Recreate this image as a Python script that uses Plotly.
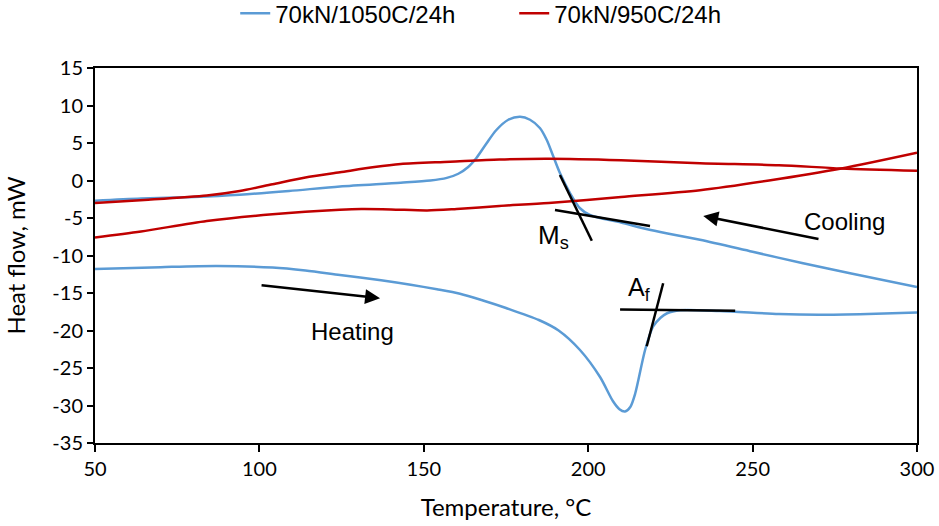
import plotly.graph_objects as go

# Blue sample 70kN/1050C/24h - cooling branch (upper)
blue_cool_T = [50, 64, 80, 94, 109, 124.5, 143, 152, 157, 160.5, 163.5, 166, 169, 172, 175.7, 179.3, 182.3, 185.3, 187.4, 189.4, 191.4, 194.5, 197.5, 200.5, 210, 219, 234, 250, 265, 280, 300]
blue_cool_v = [-2.7, -2.4, -2.2, -1.9, -1.4, -0.8, -0.3, 0.0, 0.35, 0.9, 1.8, 3.0, 4.9, 6.7, 8.1, 8.5, 8.1, 7.0, 5.4, 3.2, 1.0, -1.7, -3.7, -4.6, -5.6, -6.6, -7.9, -9.5, -11.0, -12.4, -14.2]

# Blue sample - heating branch (lower)
blue_heat_T = [50, 70, 87, 104, 114, 124.5, 137, 146, 154, 161, 168, 175, 185, 191, 197.5, 203.6, 207.5, 209.5, 211.2, 212.8, 214.3, 217.3, 219.7, 222, 224, 228, 240, 258, 270, 285, 300]
blue_heat_v = [-11.8, -11.55, -11.4, -11.6, -12.0, -12.6, -13.3, -13.9, -14.5, -15.1, -16.0, -17.0, -18.6, -20.0, -22.6, -26.2, -29.4, -30.5, -30.8, -30.2, -28.4, -22.6, -19.5, -18.3, -17.7, -17.3, -17.4, -17.8, -17.9, -17.8, -17.6]

# Red sample 70kN/950C/24h - cooling branch (upper)
red_cool_T = [50, 65, 84, 94, 104, 114, 124.5, 135, 143, 158, 173, 188, 210, 234, 258, 277, 300]
red_cool_v = [-3.0, -2.6, -2.0, -1.4, -0.5, 0.4, 1.1, 1.8, 2.2, 2.5, 2.8, 2.9, 2.7, 2.3, 2.05, 1.6, 1.3]

# Red sample - heating branch (lower)
red_heat_T = [50, 64, 84, 104, 124.5, 131, 140, 151, 160, 173, 188, 210, 234, 255, 277, 300]
red_heat_v = [-7.6, -6.8, -5.4, -4.5, -3.9, -3.8, -3.85, -4.0, -3.8, -3.4, -3.0, -2.2, -1.3, 0.0, 1.6, 3.7]

# Tangent construction lines (Ms, Af)
ms_tan1_T = [191.4, 201.1]
ms_tan1_v = [0.73, -8.03]
ms_tan2_T = [189.9, 218.8]
ms_tan2_v = [-3.93, -6.07]
af_tan1_T = [222.8, 217.8]
af_tan1_v = [-13.7, -22.1]
af_tan2_T = [209.7, 244.7]
af_tan2_v = [-17.2, -17.35]

x_ticks = [50, 100, 150, 200, 250, 300]
y_ticks = [-35, -30, -25, -20, -15, -10, -5, 0, 5, 10, 15]

BLUE = "#5B9BD5"
RED = "#C00000"
TICKFONT = dict(family="Lato", size=20, color="#000000")
TITLEFONT = dict(family="Lato", size=24, color="#000000")
TEXTFONT = dict(family="Liberation Sans, Arial", size=24, color="#000000")
LINE_STYLE = dict(width=2.5, shape="spline", smoothing=0.8)

fig = go.Figure()
fig.add_trace(go.Scatter(x=blue_cool_T, y=blue_cool_v, mode="lines", name="70kN/1050C/24h",
                         line=dict(color=BLUE, **LINE_STYLE), legendgroup="b"))
fig.add_trace(go.Scatter(x=blue_heat_T, y=blue_heat_v, mode="lines", name="70kN/1050C/24h",
                         line=dict(color=BLUE, **LINE_STYLE), legendgroup="b", showlegend=False))
fig.add_trace(go.Scatter(x=red_cool_T, y=red_cool_v, mode="lines", name="70kN/950C/24h",
                         line=dict(color=RED, **LINE_STYLE), legendgroup="r"))
fig.add_trace(go.Scatter(x=red_heat_T, y=red_heat_v, mode="lines", name="70kN/950C/24h",
                         line=dict(color=RED, **LINE_STYLE), legendgroup="r", showlegend=False))

for tx, tv in [(ms_tan1_T, ms_tan1_v), (ms_tan2_T, ms_tan2_v), (af_tan1_T, af_tan1_v), (af_tan2_T, af_tan2_v)]:
    fig.add_trace(go.Scatter(x=tx, y=tv, mode="lines", line=dict(color="black", width=2.5),
                             showlegend=False, hoverinfo="skip"))

# Arrows
fig.add_annotation(x=136.7, y=-15.7, ax=100.2, ay=-13.93, axref="x", ayref="y", xref="x", yref="y",
                   showarrow=True, arrowhead=2, arrowsize=1.2, arrowwidth=2.5, arrowcolor="black", text="")
fig.add_annotation(x=235, y=-4.73, ax=270.5, ay=-7.84, axref="x", ayref="y", xref="x", yref="y",
                   showarrow=True, arrowhead=2, arrowsize=1.2, arrowwidth=2.5, arrowcolor="black", text="")

fig.add_annotation(x=128.2, y=-20.1, text="Heating", showarrow=False, font=TEXTFONT)
fig.add_annotation(x=278, y=-5.4, text="Cooling", showarrow=False, font=TEXTFONT)
fig.add_annotation(x=189.5, y=-7.4, text="M<sub>s</sub>", showarrow=False, font=dict(family="Liberation Sans, Arial", size=26, color="#000000"))
fig.add_annotation(x=215.3, y=-14.5, text="A<sub>f</sub>", showarrow=False, font=dict(family="Liberation Sans, Arial", size=25, color="#000000"))

fig.update_layout(
    width=939, height=526,
    margin=dict(l=95, r=22, t=68, b=83, autoexpand=False),
    paper_bgcolor="white", plot_bgcolor="white",
    showlegend=True,
    legend=dict(orientation="h", x=0.51, xanchor="center", y=1.145, yanchor="middle",
                yref="paper", font=dict(family="Liberation Sans, Arial", size=24, color="#000000"),
                entrywidth=234, entrywidthmode="pixels", traceorder="normal"),
    xaxis=dict(range=[50, 300], tickvals=x_ticks, ticktext=[str(t) for t in x_ticks],
               showgrid=False, zeroline=False, showline=True, linecolor="black", linewidth=2,
               mirror=True, ticks="outside", ticklen=7, tickwidth=2, tickcolor="black",
               tickfont=TICKFONT, automargin=False,
               title=dict(text="Temperature, °C", font=TITLEFONT, standoff=20)),
    yaxis=dict(range=[-35, 15], tickvals=y_ticks, ticktext=[str(t) for t in y_ticks],
               showgrid=False, zeroline=False, showline=True, linecolor="black", linewidth=2,
               mirror=True, ticks="outside", ticklen=6, tickwidth=2, tickcolor="black",
               tickfont=TICKFONT, automargin=False,
               title=dict(text="Heat flow, mW", font=TITLEFONT, standoff=20)),
)

fig.write_html("out.html")
